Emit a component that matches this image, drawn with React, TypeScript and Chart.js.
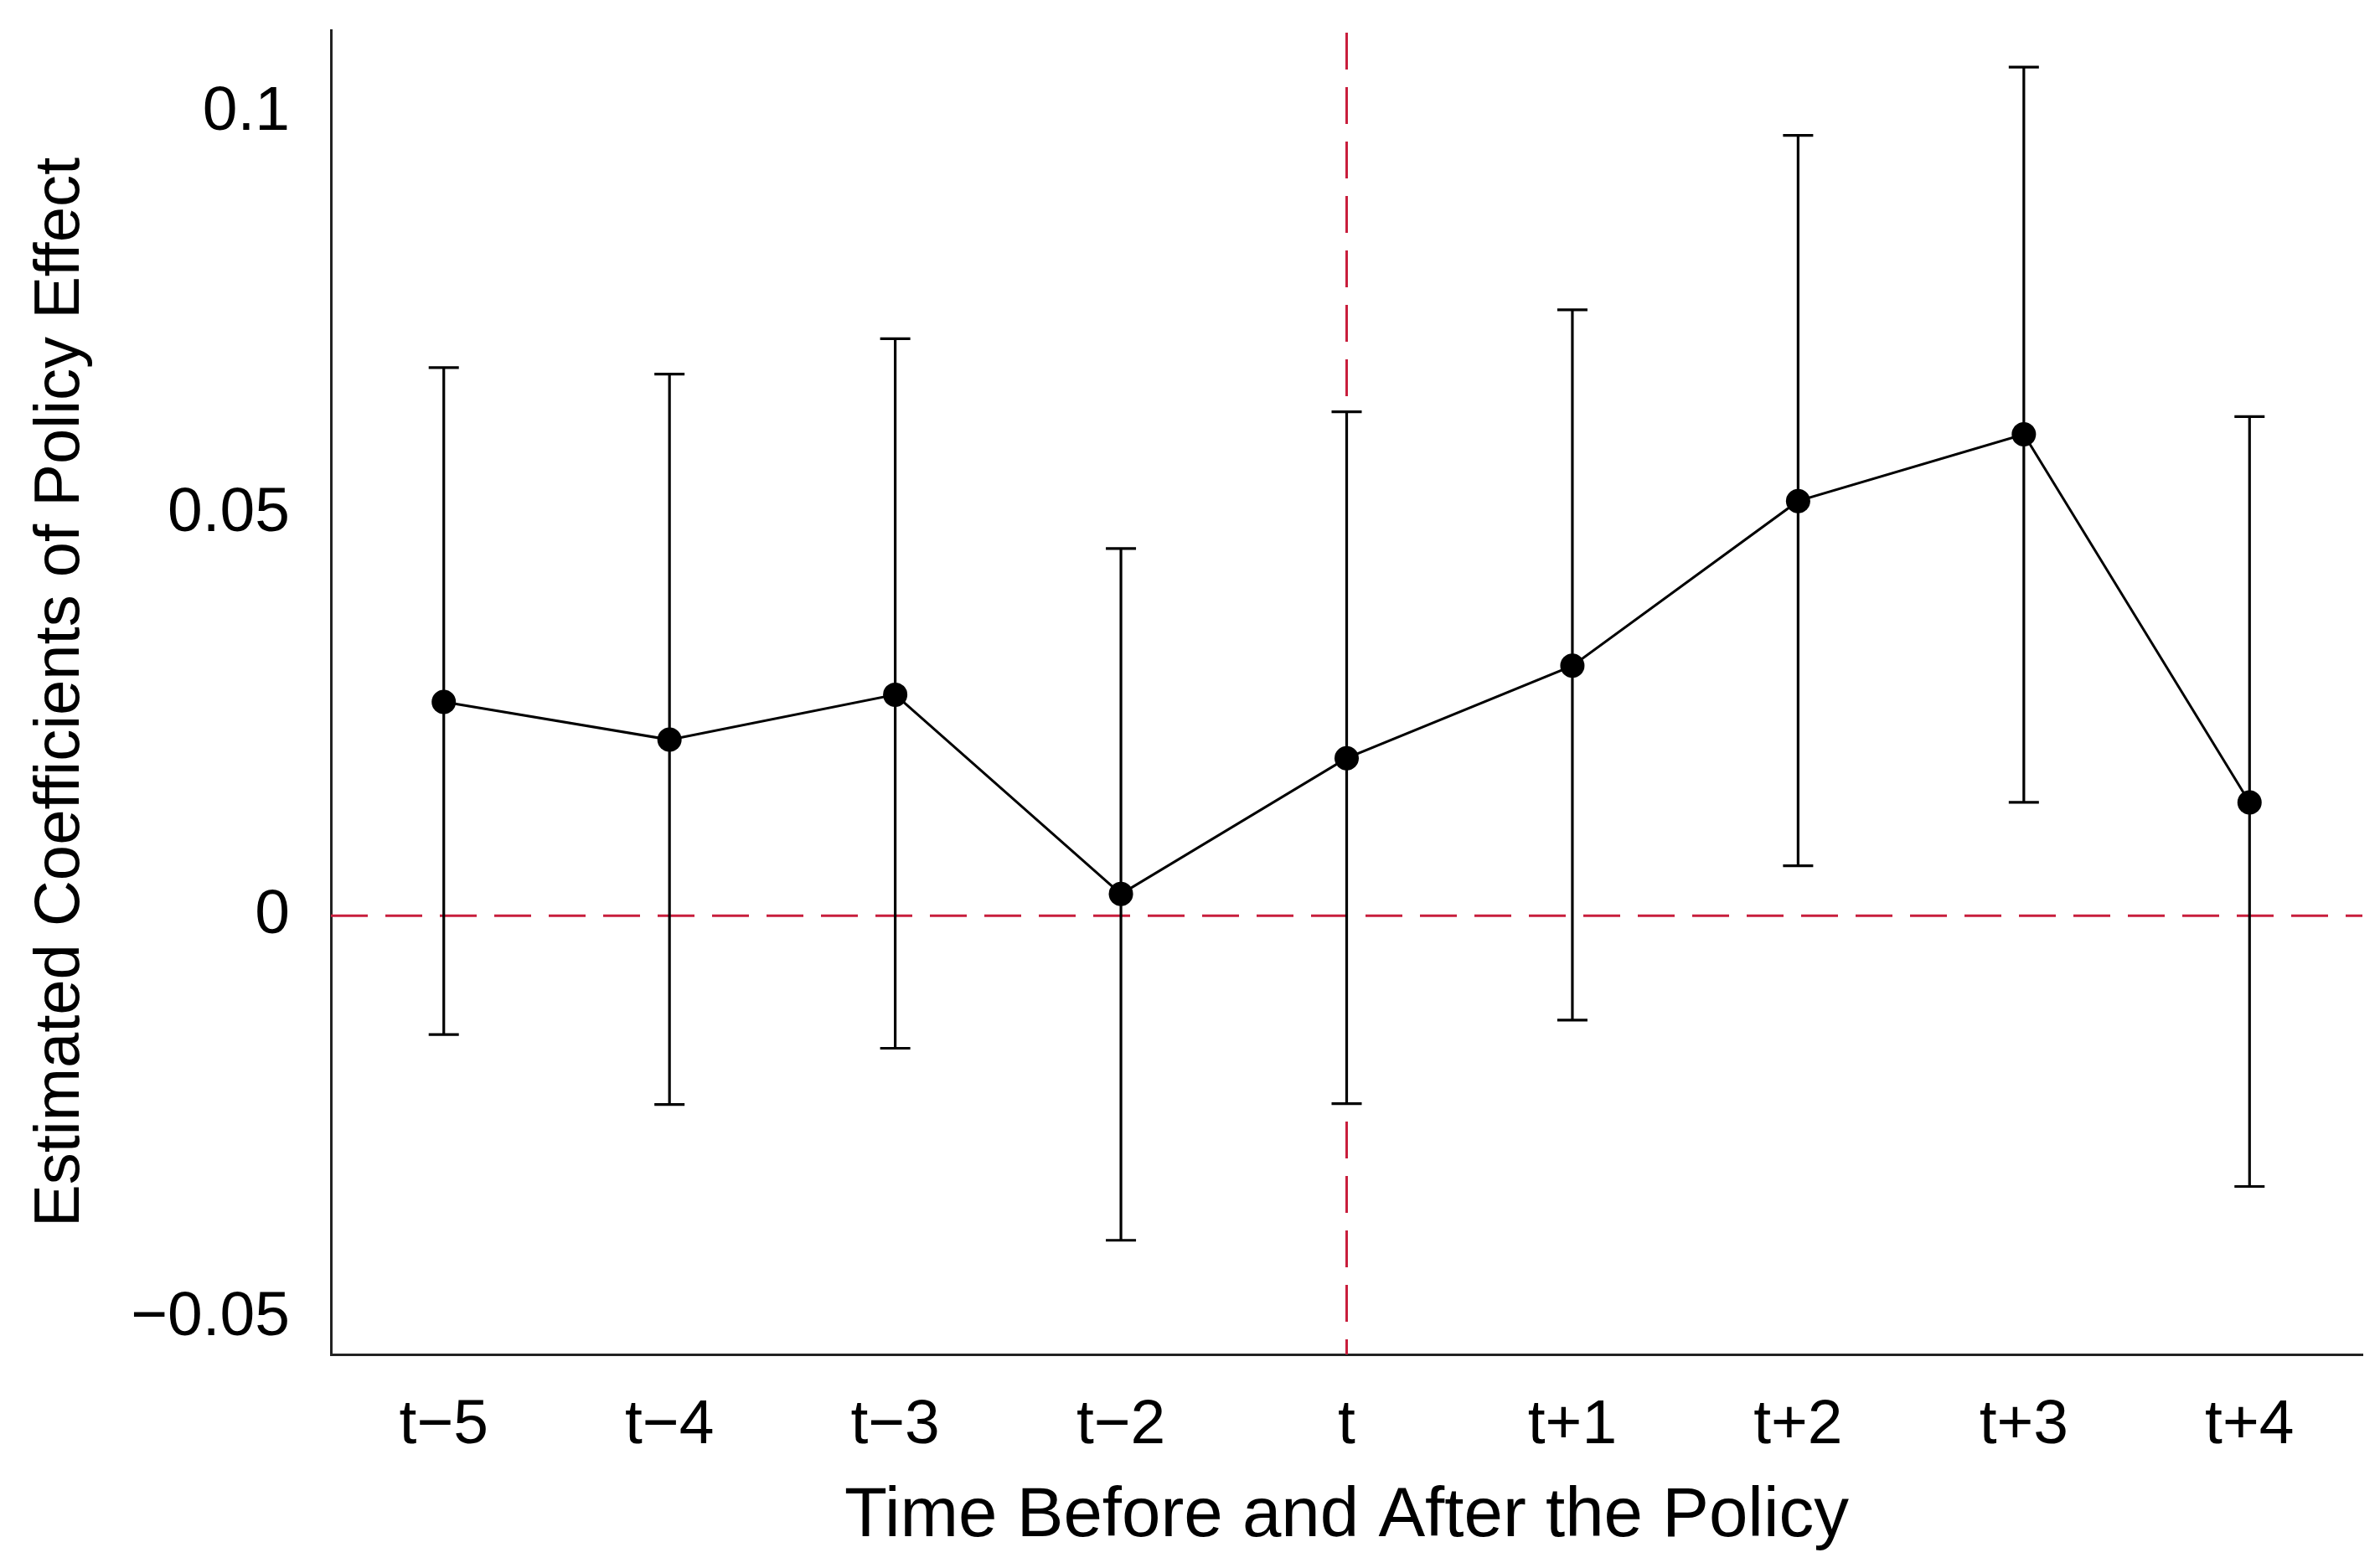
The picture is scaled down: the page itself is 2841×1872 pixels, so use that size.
import React, { useEffect, useRef } from 'react';
import { Chart, registerables } from 'chart.js';

Chart.register(...registerables);

const periods = ['t−5', 't−4', 't−3', 't−2', 't', 't+1', 't+2', 't+3', 't+4'];
const coefficients = [0.0266, 0.0219, 0.0275, 0.0027, 0.0196, 0.0311, 0.0516, 0.0599, 0.0141];
const upperCI = [0.0682, 0.0674, 0.0718, 0.0457, 0.0627, 0.0754, 0.0971, 0.1056, 0.0621];
const lowerCI = [-0.0148, -0.0235, -0.0165, -0.0404, -0.0234, -0.013, 0.0062, 0.0141, -0.0337];
const yTickValues = [-0.05, 0, 0.05, 0.1];
const yTickLabels = ['−0.05', '0', '0.05', '0.1'];
const policyPeriod = 't';
const referenceValue = 0;
const yMin = -0.0546;
const yMax = 0.1102;

const FONT = "'Liberation Sans', Arial, Helvetica, sans-serif";
const RED = '#C81E3C';

const refLinesPlugin = {
  id: 'refLines',
  beforeDatasetsDraw(chart: any) {
    const { ctx, chartArea, scales } = chart;
    const x = scales.x.getPixelForValue(periods.indexOf(policyPeriod));
    const y = scales.y.getPixelForValue(referenceValue);
    ctx.save();
    ctx.strokeStyle = RED;
    ctx.lineWidth = 3;
    ctx.setLineDash([44, 21]);
    ctx.beginPath();
    ctx.moveTo(chartArea.left, y);
    ctx.lineTo(chartArea.right, y);
    ctx.stroke();
    ctx.beginPath();
    ctx.moveTo(x, chartArea.top + 3);
    ctx.lineTo(x, chartArea.bottom);
    ctx.stroke();
    ctx.restore();
  },
};

const errorBarPlugin = {
  id: 'errorBars',
  beforeDatasetsDraw(chart: any) {
    const { ctx, scales } = chart;
    ctx.save();
    ctx.strokeStyle = '#000';
    ctx.lineWidth = 3.2;
    ctx.setLineDash([]);
    const half = 18;
    periods.forEach((_, i) => {
      const x = scales.x.getPixelForValue(i);
      const yu = scales.y.getPixelForValue(upperCI[i]);
      const yl = scales.y.getPixelForValue(lowerCI[i]);
      ctx.beginPath();
      ctx.moveTo(x, yu);
      ctx.lineTo(x, yl);
      ctx.moveTo(x - half, yu);
      ctx.lineTo(x + half, yu);
      ctx.moveTo(x - half, yl);
      ctx.lineTo(x + half, yl);
      ctx.stroke();
    });
    ctx.restore();
  },
};

export default function App() {
  const canvasRef = useRef<HTMLCanvasElement | null>(null);

  useEffect(() => {
    if (!canvasRef.current) return;
    const chart = new Chart(canvasRef.current, {
      type: 'line',
      data: {
        labels: periods,
        datasets: [
          {
            data: coefficients,
            borderColor: '#000',
            borderWidth: 3,
            pointRadius: 14.5,
            pointBackgroundColor: '#000',
            pointBorderColor: '#000',
            pointBorderWidth: 0,
            tension: 0,
            fill: false,
          },
        ],
      },
      options: {
        responsive: false,
        devicePixelRatio: 1,
        animation: false,
        layout: { padding: { top: 36, right: 21, left: 0, bottom: 0 } },
        plugins: {
          legend: { display: false },
          tooltip: { enabled: false },
        },
        scales: {
          x: {
            type: 'category',
            offset: true,
            grid: { display: false, drawTicks: false },
            border: { display: true, color: '#222', width: 3 },
            ticks: {
              font: { family: FONT, size: 75 },
              color: '#000',
              padding: 40,
              maxRotation: 0,
              autoSkip: false,
            },
            title: {
              display: true,
              text: 'Time Before and After the Policy',
              font: { family: FONT, size: 83.5 },
              color: '#000',
              padding: { top: 0, bottom: 11 },
            },
            afterFit: (s: any) => {
              s.height = 255;
              s.paddingLeft = 0;
              s.paddingRight = 0;
            },
          },
          y: {
            min: yMin,
            max: yMax,
            grid: { display: false, drawTicks: false },
            border: { display: true, color: '#222', width: 3 },
            ticks: {
              font: { family: FONT, size: 75 },
              color: '#000',
              padding: 49,
              callback: (v: any) => {
                const idx = yTickValues.findIndex((t) => Math.abs(t - Number(v)) < 1e-9);
                return idx >= 0 ? yTickLabels[idx] : '';
              },
            },
            afterBuildTicks: (s: any) => {
              s.ticks = yTickValues.map((v) => ({ value: v }));
            },
            title: {
              display: true,
              text: 'Estimated Coefficients of Policy Effect',
              font: { family: FONT, size: 76 },
              color: '#000',
              padding: { top: 27, bottom: 0 },
            },
            afterFit: (s: any) => {
              s.width = 395;
              s.paddingTop = 0;
              s.paddingBottom = 0;
            },
          },
        },
      },
      plugins: [refLinesPlugin, errorBarPlugin],
    } as any);
    return () => chart.destroy();
  }, []);

  return (
    <div style={{ position: 'fixed', left: 0, top: 0, width: 2841, height: 1872, background: '#fff' }}>
      <canvas ref={canvasRef} width={2841} height={1872} style={{ display: 'block', width: 2841, height: 1872 }} />
    </div>
  );
}
